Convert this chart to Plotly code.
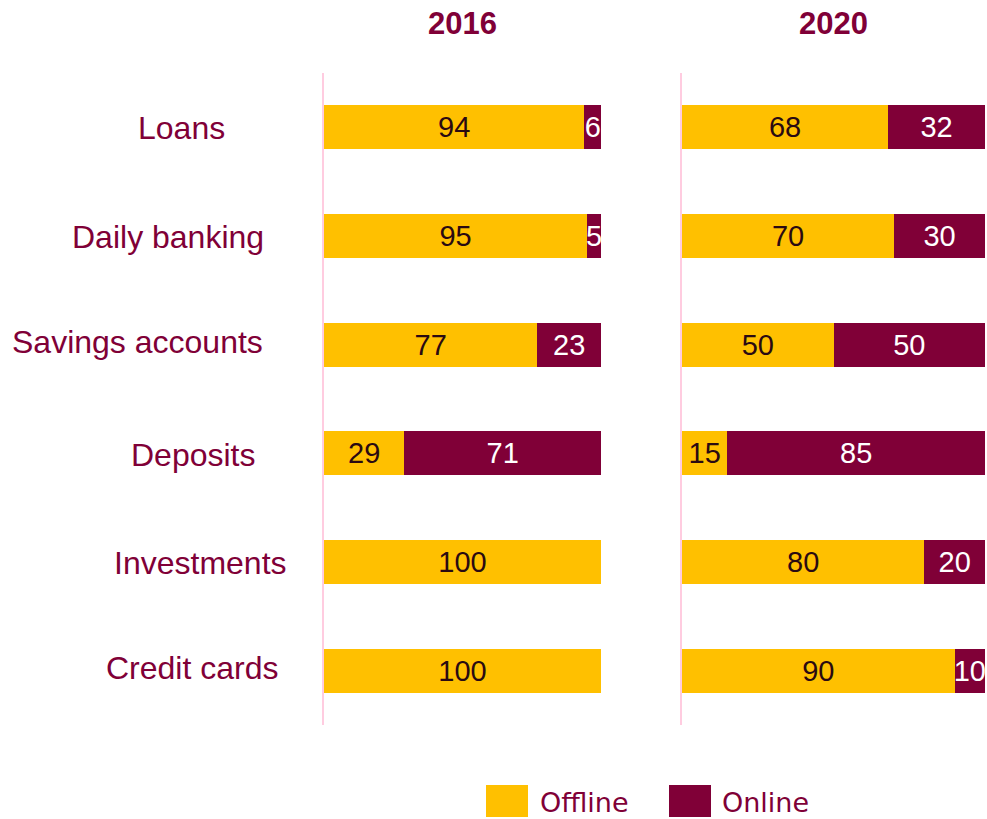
import plotly.graph_objects as go

# Share of customers by channel (%), per product, in two survey years
categories = ["Loans", "Daily banking", "Savings accounts", "Deposits", "Investments", "Credit cards"]
offline_2016 = [94, 95, 77, 29, 100, 100]
online_2016 = [6, 5, 23, 71, 0, 0]
offline_2020 = [68, 70, 50, 15, 80, 90]
online_2020 = [32, 30, 50, 85, 20, 10]
years = ["2016", "2020"]
series_names = ["Offline", "Online"]

W, H = 987, 819
TOP, BOTTOM = 73, 725          # plot area in pixels
PLOT_H = BOTTOM - TOP

YELLOW = "#FFC000"
MAROON = "#800037"
DARK_TXT = "#2A0A12"
PINK_LINE = "#FFCCE0"
FONT = "Liberation Sans, Arial, sans-serif"


def px_x(p):
    return p / W


def px_y(p):
    return (BOTTOM - p) / PLOT_H


def labels(vals):
    return [str(v) if v else "" for v in vals]


fig = go.Figure()

panels = [
    ("x", "y", offline_2016, online_2016),
    ("x2", "y2", offline_2020, online_2020),
]
for i, (xa, ya, off, on) in enumerate(panels):
    for name, vals, color, tcolor in [
        (series_names[0], off, YELLOW, DARK_TXT),
        (series_names[1], on, MAROON, "white"),
    ]:
        fig.add_trace(go.Bar(
            y=categories, x=vals, orientation="h", name=name,
            marker=dict(color=color, line=dict(width=0)),
            text=labels(vals), textposition="inside", insidetextanchor="middle",
            textangle=0, constraintext="none",
            textfont=dict(family=FONT, size=29, color=tcolor),
            xaxis=xa, yaxis=ya, showlegend=False, cliponaxis=False,
        ))

axis_common = dict(range=[0, 100], showgrid=False, zeroline=False,
                   showticklabels=False, ticks="", fixedrange=True)
yaxis_common = dict(categoryorder="array", categoryarray=categories,
                    autorange="reversed", showgrid=False, zeroline=False,
                    showticklabels=False, ticks="", showline=True,
                    linecolor=PINK_LINE, linewidth=2, domain=[0, 1])

fig.update_layout(
    width=W, height=H,
    margin=dict(l=0, r=0, t=TOP, b=H - BOTTOM),
    paper_bgcolor="white", plot_bgcolor="rgba(0,0,0,0)",
    barmode="stack", bargap=0.595,
    xaxis=dict(domain=[px_x(324), px_x(601)], anchor="y", **axis_common),
    xaxis2=dict(domain=[px_x(682), px_x(985)], anchor="y2", **axis_common),
    yaxis=dict(anchor="x", **yaxis_common),
    yaxis2=dict(anchor="x2", **yaxis_common),
    showlegend=False,
)

annotations = []

# Year headers centred over each panel
for yr, (x0, x1) in zip(years, [(323, 601), (681, 985)]):
    annotations.append(dict(
        text=f"<b>{yr}</b>", xref="paper", yref="paper",
        x=px_x((x0 + x1) / 2), y=px_y(23), xanchor="center", yanchor="middle",
        showarrow=False, font=dict(family=FONT, size=31, color=MAROON),
    ))

# Category labels to the left of the first panel
label_place = {
    "Loans": (181, 1),
    "Daily banking": (168, 1),
    "Savings accounts": (137, -3),
    "Deposits": (193, 2),
    "Investments": (200, 1),
    "Credit cards": (192, -3),
}
for cat in categories:
    cx, dy = label_place[cat]
    annotations.append(dict(
        text=cat, xref="paper", yref="y", x=px_x(cx), y=cat,
        xanchor="center", yanchor="middle", yshift=-dy, showarrow=False,
        font=dict(family=FONT, size=32, color=MAROON),
    ))

# Custom legend: coloured blocks followed by series names
shapes = []
for name, color, (bx0, bx1), tx in [
    (series_names[0], YELLOW, (486, 528), 538),
    (series_names[1], MAROON, (669, 711), 720),
]:
    shapes.append(dict(type="rect", xref="paper", yref="paper",
                       x0=px_x(bx0), x1=px_x(bx1), y0=px_y(785), y1=px_y(817),
                       fillcolor=color, line=dict(width=0), layer="above"))
    annotations.append(dict(
        text=name, xref="paper", yref="paper", x=px_x(tx), y=px_y(802),
        xanchor="left", yanchor="middle", showarrow=False,
        font=dict(family="DejaVu Sans, Verdana, sans-serif", size=27, color=MAROON),
    ))

fig.update_layout(annotations=annotations, shapes=shapes)

fig.write_html("out.html")
